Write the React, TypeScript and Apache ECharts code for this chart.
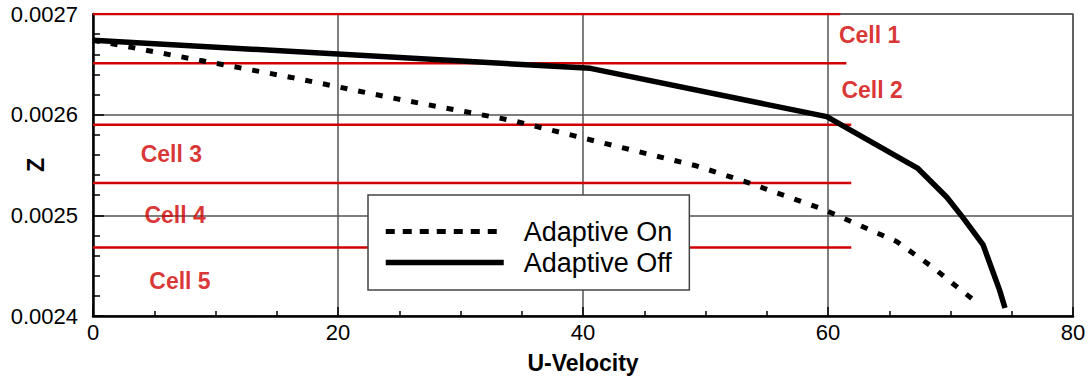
import React, { useEffect, useRef } from 'react';
import * as echarts from 'echarts';

// Velocity profiles through the near-wall cells
const adaptiveOnU = [0, 8.7, 16.2, 25.1, 34.3, 41.6, 49.3, 53.6, 59.6, 65.6, 68.6, 70.1, 72.2];
const adaptiveOnZ = [0.002674, 0.002654, 0.002637, 0.002615, 0.002594, 0.002572, 0.002549, 0.002532, 0.002506, 0.002474, 0.002448, 0.002433, 0.002413];
const adaptiveOffU = [0, 40.6, 59.9, 67.3, 69.7, 71.0, 72.65, 73.4, 74.0, 74.45];
const adaptiveOffZ = [0.002674, 0.002646, 0.002598, 0.002547, 0.002518, 0.002498, 0.002471, 0.002446, 0.002426, 0.002408];

// Cell boundaries (z) and how far each boundary line runs along U
const cellBoundaryZ = [0.0027, 0.002651, 0.00259, 0.002532, 0.002468];
const cellBoundaryEndU = [61.0, 61.5, 61.9, 61.9, 61.9];

// Cell name annotations, placed in data coordinates
const cellNames = ['Cell 1', 'Cell 2', 'Cell 3', 'Cell 4', 'Cell 5'];
const cellLabelU = [63.4, 63.6, 6.4, 6.7, 7.1];
const cellLabelZ = [0.002679, 0.002625, 0.002561, 0.0025, 0.002435];

const FONT = '"Liberation Sans", Arial, Helvetica, sans-serif';
const RED = '#d00000';
const ON_DASH = [7, 11];

export default function App() {
  const ref = useRef<HTMLDivElement>(null);

  useEffect(() => {
    if (!ref.current) return;
    const chart = echarts.init(ref.current, null, { renderer: 'svg' });

    const boundarySeries = cellBoundaryZ.map((z, i) => ({
      type: 'line',
      name: 'boundary' + i,
      data: [
        [0, z],
        [cellBoundaryEndU[i], z],
      ],
      symbol: 'none',
      silent: true,
      z: 2,
      lineStyle: { color: RED, width: 2.5 },
    }));

    chart.setOption({
      animation: false,
      backgroundColor: '#ffffff',
      textStyle: { fontFamily: FONT },
      grid: {
        left: 93,
        top: 14,
        width: 980,
        height: 302,
        outerBoundsMode: 'none',
        containLabel: false,
        show: true,
        borderColor: '#666',
        borderWidth: 1.5,
        backgroundColor: 'transparent',
      },
      legend: {
        data: [
          { name: 'Adaptive On', lineStyle: { width: 5, type: [9, 8], color: '#000' } },
          { name: 'Adaptive Off', lineStyle: { width: 5.5, type: 'solid', color: '#000' } },
        ],
        orient: 'vertical',
        left: 368,
        top: 195,
        padding: [23, 17, 14, 15],
        itemGap: 4,
        itemWidth: 118,
        itemHeight: 14,
        backgroundColor: '#ffffff',
        borderColor: '#444',
        borderWidth: 1.5,
        borderRadius: 0,
        selectedMode: false,
        z: 10,
        itemStyle: { color: 'transparent', borderWidth: 0, opacity: 0 },
        textStyle: {
          fontFamily: FONT,
          fontSize: 27,
          color: '#000',
          padding: [0, 0, 0, 15],
        },
      },
      xAxis: {
        type: 'value',
        min: 0,
        max: 80,
        interval: 20,
        name: 'U-Velocity',
        nameLocation: 'middle',
        nameGap: 35,
        nameMoveOverlap: false,
        nameTextStyle: { fontFamily: FONT, fontSize: 23, fontWeight: 'bold', color: '#000' },
        axisLine: { show: true, lineStyle: { color: '#000', width: 2.5 } },
        axisTick: { show: true, inside: true, length: 9, lineStyle: { color: '#000', width: 1.5 } },
        minorTick: { show: true, splitNumber: 4, length: 5, lineStyle: { color: '#000', width: 1.5 } },
        axisLabel: { fontFamily: FONT, fontSize: 22, color: '#000', margin: 5 },
        splitLine: { show: true, lineStyle: { color: '#555', width: 1.5 } },
      },
      yAxis: {
        type: 'value',
        min: 0.0024,
        max: 0.0027,
        interval: 0.0001,
        name: 'Z',
        nameLocation: 'middle',
        nameRotate: 90,
        nameGap: 46,
        nameMoveOverlap: false,
        nameTextStyle: { fontFamily: FONT, fontSize: 23, fontWeight: 'bold', color: '#000' },
        axisLine: { show: true, lineStyle: { color: '#000', width: 2.5 } },
        axisTick: { show: true, inside: true, length: 11, lineStyle: { color: '#000', width: 1.5 } },
        minorTick: { show: true, splitNumber: 5, length: 7, lineStyle: { color: '#000', width: 1.5 } },
        axisLabel: {
          fontFamily: FONT,
          fontSize: 22,
          color: '#000',
          margin: 15,
          formatter: (v: number) => v.toFixed(4),
        },
        splitLine: { show: true, lineStyle: { color: '#555', width: 1.5 } },
      },
      series: [
        ...boundarySeries,
        {
          type: 'scatter',
          name: 'cells',
          silent: true,
          symbolSize: 0,
          z: 3,
          data: cellNames.map((n, i) => ({ value: [cellLabelU[i], cellLabelZ[i]], name: n })),
          label: {
            show: true,
            position: 'inside',
            formatter: (p: any) => p.name,
            fontFamily: FONT,
            fontSize: 23,
            fontWeight: 'bold',
            color: RED,
          },
        },
        {
          type: 'line',
          name: 'Adaptive On',
          data: adaptiveOnU.map((u, i) => [u, adaptiveOnZ[i]]),
          symbol: 'none',
          z: 5,
          color: '#000',
          lineStyle: { color: '#000', width: 5, type: ON_DASH },
        },
        {
          type: 'line',
          name: 'Adaptive Off',
          data: adaptiveOffU.map((u, i) => [u, adaptiveOffZ[i]]),
          symbol: 'none',
          z: 5,
          color: '#000',
          lineStyle: { color: '#000', width: 5.5 },
        },
      ],
    });

    return () => chart.dispose();
  }, []);

  return (
    <div
      ref={ref}
      style={{ position: 'fixed', left: 0, top: 0, width: 1090, height: 378, background: '#fff' }}
    />
  );
}
